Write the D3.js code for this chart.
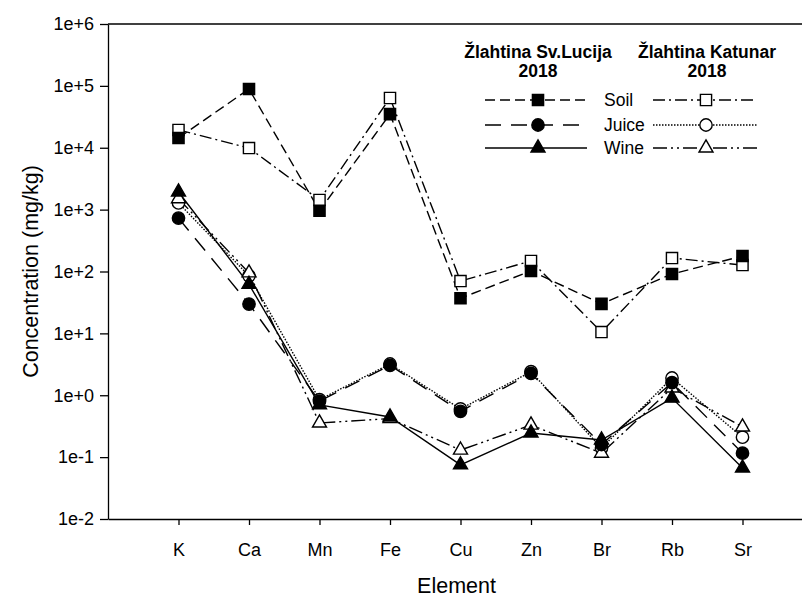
<!DOCTYPE html>
<html>
<head>
<meta charset="utf-8">
<script src="https://cdn.jsdelivr.net/npm/d3@7"></script>
<style>
  body { margin: 0; background: #fff; }
  svg { display: block; font-family: "Liberation Sans", Arial, sans-serif; }
</style>
</head>
<body>
<div id="chart"></div>
<script>
const elements = ["K", "Ca", "Mn", "Fe", "Cu", "Zn", "Br", "Rb", "Sr"];

// Žlahtina Sv.Lucija 2018
const soilSvL  = [14400, 89000, 960, 35000, 37, 102, 30, 91, 178];
const juiceSvL = [730, 29.8, 0.80, 3.05, 0.55, 2.25, 0.16, 1.6, 0.116];
const wineSvL  = [1930, 62, 0.70, 0.445, 0.075, 0.245, 0.189, 0.90, 0.067];

// Žlahtina Katunar 2018
const soilKat  = [19400, 9900, 1430, 63700, 70, 148, 10.5, 165, 127];
const juiceKat = [1280, 85, 0.85, 3.2, 0.6, 2.4, 0.14, 1.9, 0.21];
const wineKat  = [1500, 95, 0.356, 0.42, 0.13, 0.33, 0.116, 1.31, 0.307];

const yTicks = [1e-2, 1e-1, 1e0, 1e1, 1e2, 1e3, 1e4, 1e5, 1e6];
const yTickLabels = ["1e-2", "1e-1", "1e+0", "1e+1", "1e+2", "1e+3", "1e+4", "1e+5", "1e+6"];

const width = 802, height = 599;
const plotLeft = 108, plotTop = 24, plotBottom = 519, plotRight = 813;

const svg = d3.select("#chart").append("svg")
    .attr("width", width)
    .attr("height", height);

const x = d3.scalePoint()
    .domain(elements)
    .range([plotLeft, plotRight])
    .padding(1);

const y = d3.scaleLog()
    .domain([1e-2, 1e6])
    .range([plotBottom, plotTop]);

// axes
const yAxis = d3.axisLeft(y)
    .tickValues(yTicks)
    .tickFormat((d, i) => yTickLabels[i])
    .tickSize(8)
    .tickPadding(6)
    .tickSizeOuter(0);

const gy = svg.append("g")
    .attr("transform", `translate(${plotLeft},0)`)
    .call(yAxis);
gy.selectAll("text").style("font-size", "18px").attr("fill", "#000");
gy.selectAll("line, path").attr("stroke", "#000").attr("stroke-width", 1.3);

const xAxis = d3.axisBottom(x)
    .tickSize(6)
    .tickPadding(18)
    .tickSizeOuter(0);

const gx = svg.append("g")
    .attr("transform", `translate(0,${plotBottom})`)
    .call(xAxis);
gx.selectAll("text").style("font-size", "18px").attr("fill", "#000");
gx.selectAll("line, path").attr("stroke", "#000").attr("stroke-width", 1.3);

// top frame line
svg.append("line")
    .attr("x1", plotLeft).attr("x2", plotRight)
    .attr("y1", y(1e6)).attr("y2", y(1e6))
    .attr("stroke", "#000").attr("stroke-width", 1.3);

// axis titles
svg.append("text")
    .attr("x", (plotLeft + plotRight) / 2 - 4)
    .attr("y", 593)
    .attr("text-anchor", "middle")
    .style("font-size", "21.5px")
    .text("Element");

svg.append("text")
    .attr("transform", `translate(38,${(plotTop + plotBottom) / 2}) rotate(-90)`)
    .attr("text-anchor", "middle")
    .style("font-size", "21.5px")
    .text("Concentration (mg/kg)");

const series = [
    { name: "Soil",  values: soilKat,  dash: "12,4,2,4",      shape: "square",   fill: "#fff" },
    { name: "Juice", values: juiceKat, dash: "1.5,1.5",       shape: "circle",   fill: "#fff" },
    { name: "Wine",  values: wineKat,  dash: "14,4,2,4,2,4",  shape: "triangle", fill: "#fff" },
    { name: "Soil",  values: soilSvL,  dash: "10,5",          shape: "square",   fill: "#000" },
    { name: "Juice", values: juiceSvL, dash: "16,10",         shape: "circle",   fill: "#000" },
    { name: "Wine",  values: wineSvL,  dash: null,            shape: "triangle", fill: "#000" }
];

const symbolFor = {
    square: d3.symbol().type(d3.symbolSquare).size(125),
    circle: d3.symbol().type(d3.symbolCircle).size(120),
    triangle: d3.symbol().type(d3.symbolTriangle).size(85)
};

const line = d3.line()
    .x((d, i) => x(elements[i]))
    .y(d => y(d));

series.forEach(s => {
    svg.append("path")
        .datum(s.values)
        .attr("d", line)
        .attr("fill", "none")
        .attr("stroke", "#000")
        .attr("stroke-width", 1.4)
        .attr("stroke-dasharray", s.dash);
});

series.forEach(s => {
    svg.append("g")
        .selectAll("path")
        .data(s.values)
        .join("path")
        .attr("d", symbolFor[s.shape])
        .attr("transform", (d, i) => `translate(${x(elements[i])},${y(d)})`)
        .attr("fill", s.fill)
        .attr("stroke", "#000")
        .attr("stroke-width", 1.4);
});

// legend
const legend = svg.append("g");
legend.append("text")
    .attr("x", 538).attr("y", 58)
    .attr("text-anchor", "middle")
    .style("font-size", "17.5px").style("font-weight", "bold")
    .text("Žlahtina Sv.Lucija");
legend.append("text")
    .attr("x", 538).attr("y", 77)
    .attr("text-anchor", "middle")
    .style("font-size", "17.5px").style("font-weight", "bold")
    .text("2018");
legend.append("text")
    .attr("x", 707).attr("y", 58)
    .attr("text-anchor", "middle")
    .style("font-size", "17.5px").style("font-weight", "bold")
    .text("Žlahtina Katunar");
legend.append("text")
    .attr("x", 707).attr("y", 77)
    .attr("text-anchor", "middle")
    .style("font-size", "17.5px").style("font-weight", "bold")
    .text("2018");

const legendRows = [100, 125, 148];
const svlSeries = series.slice(3);
const katSeries = series.slice(0, 3);

legendRows.forEach((ly, i) => {
    [[svlSeries[i], 485, 587, 538], [katSeries[i], 653, 757, 706]].forEach(([s, x1, x2, xm]) => {
        legend.append("line")
            .attr("x1", x1).attr("x2", x2)
            .attr("y1", ly).attr("y2", ly)
            .attr("stroke", "#000")
            .attr("stroke-width", 1.4)
            .attr("stroke-dasharray", s.dash);
        legend.append("path")
            .attr("d", symbolFor[s.shape])
            .attr("transform", `translate(${xm},${ly})`)
            .attr("fill", s.fill)
            .attr("stroke", "#000")
            .attr("stroke-width", 1.4);
    });
    legend.append("text")
        .attr("x", 604).attr("y", ly + 6)
        .style("font-size", "17.5px")
        .text(svlSeries[i].name);
});
</script>
</body>
</html>
